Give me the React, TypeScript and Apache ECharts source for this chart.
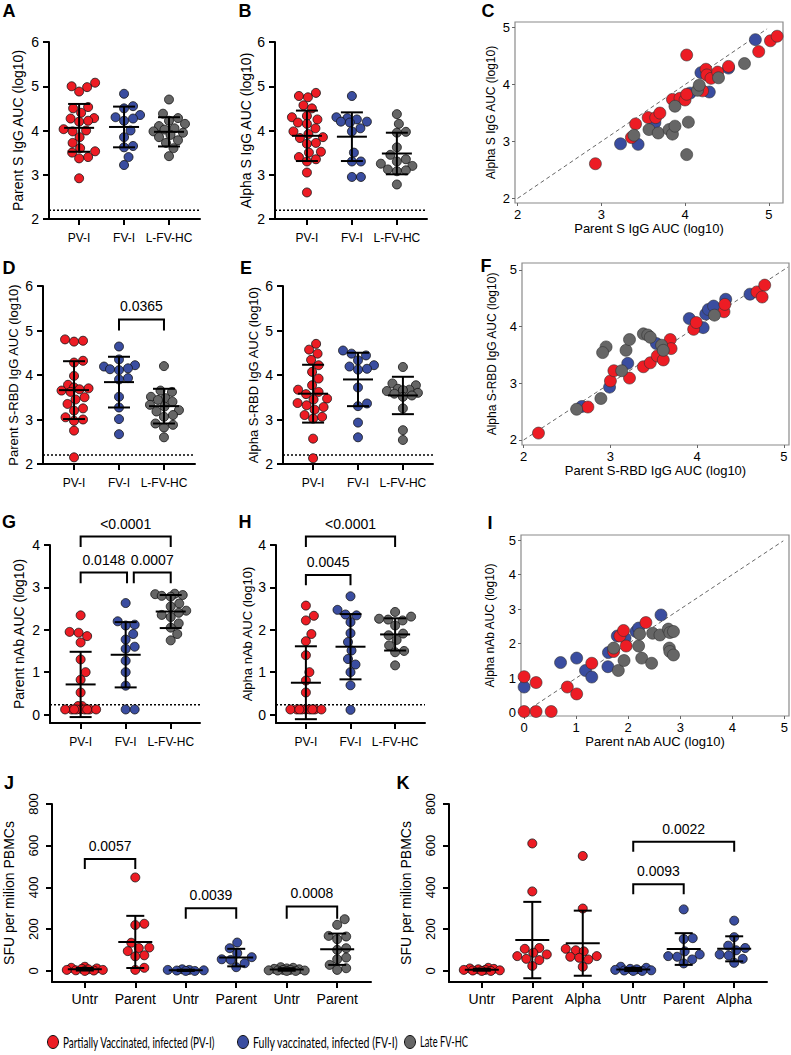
import React, { useEffect, useRef } from "react";
import * as echarts from "echarts";

const RED = "#ED1C24";
const BLUE = "#3A4DA0";
const GRAY = "#666666";
const FONT = "Liberation Sans, Arial, sans-serif";

// ---------- categories ----------
const groupCats = ["PV-I", "FV-I", "L-FV-HC"];
const catsJ = ["Untr", "Parent", "Untr", "Parent", "Untr", "Parent"];
const catsK = ["Untr", "Parent", "Alpha", "Untr", "Parent", "Alpha"];

// ---------- Panel A: Parent S IgG AUC (log10) ----------
const aPV = [5.08, 5.0, 4.98, 4.88, 4.53, 4.5, 4.4, 4.28, 4.27, 4.22, 4.2, 4.03, 4.0, 3.98, 3.85, 3.72, 3.6, 3.53, 3.5, 3.4, 3.37, 2.92];
const aFV = [4.83, 4.55, 4.5, 4.35, 4.3, 4.27, 4.22, 4.0, 3.85, 3.65, 3.62, 3.4, 3.22];
const aHC = [4.7, 4.38, 4.28, 4.22, 4.15, 4.1, 4.05, 4.02, 3.98, 3.95, 3.9, 3.85, 3.78, 3.72, 3.6, 3.42];
const aMean = [4.06, 4.08, 3.97];
const aSD = [0.54, 0.46, 0.33];

// ---------- Panel B: Alpha S IgG AUC (log10) ----------
const bPV = [4.85, 4.78, 4.75, 4.57, 4.5, 4.33, 4.3, 4.25, 4.18, 4.15, 4.05, 3.98, 3.92, 3.85, 3.83, 3.72, 3.7, 3.52, 3.5, 3.4, 3.35, 3.3, 3.05, 2.6];
const bFV = [4.78, 4.3, 4.28, 4.25, 4.2, 4.2, 4.18, 4.05, 3.98, 3.5, 3.3, 3.3, 2.95, 2.95];
const bHC = [4.37, 4.15, 3.97, 3.95, 3.62, 3.45, 3.35, 3.3, 3.25, 3.2, 3.12, 3.1, 3.08, 2.78];
const bMean = [3.88, 3.86, 3.48];
const bSD = [0.57, 0.55, 0.47];

// ---------- Panel C: Parent vs Alpha S IgG ----------
const cRed = [[2.93, 2.61], [3.36, 3.07], [3.41, 3.31], [3.56, 3.42], [3.65, 3.42], [3.7, 3.5], [3.85, 3.74], [3.94, 3.76], [4.0, 3.73], [4.02, 3.83], [4.02, 4.52], [4.21, 3.89], [4.25, 4.27], [4.26, 4.17], [4.31, 4.11], [4.39, 4.22], [4.52, 4.32], [4.88, 4.58], [5.02, 4.77], [5.1, 4.85]];
const cBlue = [[3.23, 2.96], [3.44, 2.95], [3.64, 3.33], [4.06, 3.85], [4.29, 3.87], [4.19, 4.21], [4.52, 4.29], [4.84, 4.79]];
const cGray = [[3.39, 3.11], [3.57, 3.21], [3.68, 3.15], [3.81, 3.21], [3.85, 3.13], [3.88, 3.27], [3.88, 3.62], [4.04, 3.34], [4.02, 2.77], [4.15, 3.9], [4.17, 3.99], [4.4, 4.12], [4.71, 4.37]];

// ---------- Panel D: Parent S-RBD IgG AUC (log10) ----------
const dPV = [4.8, 4.77, 4.75, 4.32, 4.28, 3.98, 3.78, 3.72, 3.7, 3.68, 3.65, 3.62, 3.5, 3.45, 3.35, 3.25, 3.2, 3.05, 3.0, 2.97, 2.75, 2.15];
const dFV = [4.64, 4.35, 4.22, 4.19, 4.15, 4.13, 4.11, 3.93, 3.9, 3.51, 3.27, 3.01, 2.67];
const dHC = [4.2, 3.65, 3.62, 3.51, 3.48, 3.44, 3.4, 3.33, 3.29, 3.21, 3.18, 3.1, 3.06, 2.91, 2.88, 2.82, 2.6];
const dMean = [3.66, 3.84, 3.3];
const dSD = [0.65, 0.57, 0.39];

// ---------- Panel E: Alpha S-RBD IgG AUC (log10) ----------
const ePV = [4.7, 4.57, 4.48, 4.34, 4.22, 4.07, 3.92, 3.77, 3.67, 3.62, 3.57, 3.47, 3.45, 3.37, 3.32, 3.28, 3.22, 3.1, 3.06, 3.02, 2.57, 2.13];
const eFV = [4.55, 4.48, 4.44, 4.33, 4.22, 4.19, 4.14, 4.12, 3.72, 3.36, 3.3, 2.93, 2.6];
const eHC = [4.18, 3.81, 3.77, 3.69, 3.67, 3.66, 3.64, 3.6, 3.58, 3.54, 3.51, 3.25, 2.76, 2.54];
const eMean = [3.58, 3.9, 3.54];
const eSD = [0.65, 0.6, 0.42];

// ---------- Panel F: Parent vs Alpha S-RBD IgG ----------
const fRed = [[2.17, 2.12], [2.74, 2.58], [3.0, 3.04], [3.04, 3.22], [3.22, 3.09], [3.38, 3.29], [3.46, 3.36], [3.54, 3.48], [3.61, 3.41], [3.69, 3.77], [3.7, 3.61], [3.96, 3.95], [3.99, 4.07], [4.31, 4.26], [4.32, 4.39], [4.69, 4.61], [4.78, 4.73], [4.75, 4.52]];
const fBlue = [[2.67, 2.59], [2.99, 2.93], [3.2, 3.35], [3.53, 3.7], [3.91, 4.14], [4.07, 3.98], [4.1, 4.22], [4.13, 4.3], [4.19, 4.36], [4.33, 4.48], [4.61, 4.57]];
const fGray = [[2.61, 2.54], [2.89, 2.73], [3.13, 3.22], [2.95, 3.64], [2.91, 3.54], [3.18, 3.58], [3.22, 3.77], [3.38, 3.87], [3.43, 3.85], [3.46, 3.81], [3.59, 3.67], [3.61, 3.58], [4.2, 4.2]];

// ---------- Panel G: Parent nAb AUC (log10) ----------
const gPV = [2.34, 1.95, 1.93, 1.85, 1.7, 1.3, 1.0, 0.82, 0.52, 0.2, 0.2, 0.12, 0.12, 0.12, 0.12, 0.12, 0.12, 0.12, 0.12, 0.12];
const gFV = [2.63, 2.2, 2.12, 2.1, 1.9, 1.77, 1.6, 1.55, 1.27, 1.0, 0.68, 0.12, 0.12];
const gHC = [2.85, 2.84, 2.82, 2.8, 2.78, 2.62, 2.55, 2.45, 2.4, 2.35, 2.3, 2.15, 2.05, 1.9, 1.75];
const gMean = [0.71, 1.41, 2.43];
const gSD = [0.77, 0.77, 0.39];

// ---------- Panel H: Alpha nAb AUC (log10) ----------
const hPV = [2.57, 2.33, 2.22, 1.9, 1.73, 1.4, 1.0, 0.8, 0.52, 0.12, 0.12, 0.12, 0.12, 0.12, 0.12, 0.12, 0.12, 0.12];
const hFV = [2.79, 2.47, 2.36, 2.34, 2.18, 1.92, 1.71, 1.51, 1.31, 1.18, 1.0, 0.69, 0.11];
const hHC = [2.42, 2.31, 2.26, 2.24, 2.22, 2.1, 1.91, 1.87, 1.76, 1.63, 1.5, 1.47, 1.16];
const hMean = [0.75, 1.6, 1.89];
const hSD = [0.86, 0.77, 0.38];

// ---------- Panel I: Parent vs Alpha nAb ----------
const iRed = [[0, 1.04], [0.23, 0.87], [0, 0.03], [0.23, 0.03], [0.52, 0.03], [0.83, 0.74], [1.01, 0.54], [1.3, 1.43], [1.72, 1.77], [1.84, 2.22], [1.91, 2.38], [1.96, 1.93], [2.34, 2.61]];
const iBlue = [[0, 0.74], [0.7, 1.45], [1.01, 1.58], [1.18, 1.22], [1.3, 1.03], [1.61, 1.33], [1.62, 1.74], [1.79, 2.22], [1.94, 2.16], [2.15, 2.35], [2.2, 2.45], [2.63, 2.83]];
const iGray = [[1.72, 1.87], [1.81, 1.22], [1.92, 1.51], [2.2, 1.93], [2.22, 2.28], [2.26, 1.58], [2.45, 1.43], [2.47, 2.3], [2.61, 2.25], [2.77, 2.42], [2.8, 2.32], [2.87, 2.35], [2.79, 1.87], [2.8, 1.77], [2.87, 1.67]];

// ---------- Panel J: SFU per million PBMCs ----------
const jUntr1 = [20, 15, 12, 10, 8, 5, 5, 3, 2, 0];
const jPar1 = [448, 226, 220, 135, 112, 110, 95, 75, 70, 15, 5];
const jUntr2 = [8, 5, 5, 3, 2, 0, 0];
const jPar2 = [136, 109, 85, 66, 56, 53, 37, 18];
const jUntr3 = [18, 15, 12, 10, 8, 5, 5, 3, 2, 2, 0, 0];
const jPar3 = [248, 221, 168, 165, 152, 109, 101, 64, 56, 29, 13, 5];
const jMean = [8, 139, 3, 64, 7, 104];
const jSD = [6, 125, 3, 42, 6, 75];

// ---------- Panel K: SFU per million PBMCs ----------
const kUntr1 = [15, 12, 10, 8, 5, 5, 3, 2, 0, 0];
const kPar1 = [611, 381, 110, 106, 87, 79, 71, 58, 52, 24];
const kAlp1 = [551, 299, 106, 99, 94, 71, 68, 63, 55, 20];
const kUntr2 = [20, 15, 10, 8, 5, 3, 2, 0, 0];
const kPar2 = [295, 157, 153, 94, 79, 71, 68, 55, 36];
const kAlp2 = [241, 162, 121, 110, 99, 79, 74, 58, 39];
const kMean = [6, 148, 133, 7, 105, 106];
const kSD = [5, 183, 156, 7, 76, 60];

// ---------- significance brackets: [x1, x2, top, leg] + labels ----------
const dBrackets = [[2, 3, 5.25, 5.0]];
const dBracketLabels = ["0.0365"];
const gBrackets = [[1, 3, 4.2, 3.95], [1, 2.03, 3.35, 3.1], [2.18, 3, 3.35, 3.1]];
const gBracketLabels = ["<0.0001", "0.0148", "0.0007"];
const hBrackets = [[1, 3, 4.2, 3.95], [1, 2, 3.29, 3.05]];
const hBracketLabels = ["<0.0001", "0.0045"];
const jBrackets = [[1, 2, 536, 488], [3, 4, 301, 250], [5, 6, 309, 250]];
const jBracketLabels = ["0.0057", "0.0039", "0.0008"];
const kBrackets = [[4, 6, 619, 571], [4, 5, 416, 368]];
const kBracketLabels = ["0.0022", "0.0093"];

// ---------- legend ----------
const legendNames = ["Partially Vaccinated, infected (PV-I)", "Fully vaccinated, infected (FV-I)", "Late FV-HC"];
const legendColors = [RED, BLUE, GRAY];

function swarmOffsets(vals: number[], pxX: number, pxY: number, diam: number, limitPx: number): number[] {
  const idx = vals.map((_, i) => i).sort((a, b) => vals[a] - vals[b]);
  const placed: { x: number; y: number }[] = [];
  const res: number[] = new Array(vals.length).fill(0);
  const cands: number[] = [0];
  for (let k = 1; k <= limitPx * 2; k++) cands.push(k * 0.5, -k * 0.5);
  for (const i of idx) {
    const py = vals[i] * pxY;
    let chosen = 0;
    let found = false;
    for (const f of [1, 0.85, 0.7, 0.55, 0.4, 0.25]) {
      const d = diam * f;
      for (const c of cands) {
        if (Math.abs(c) > limitPx) continue;
        if (placed.every((p) => (p.x - c) ** 2 + (p.y - py) ** 2 >= d * d - 0.01)) {
          chosen = c;
          found = true;
          break;
        }
      }
      if (found) break;
    }
    placed.push({ x: chosen, y: py });
    res[i] = chosen / pxX;
  }
  return res;
}

function measureText(text: string, font: string): number {
  const ctx = document.createElement("canvas").getContext("2d");
  if (!ctx) return text.length * 6;
  ctx.font = font;
  return ctx.measureText(text).width;
}

function buildOption() {
  const option: any = {
    animation: false,
    backgroundColor: "#fff",
    grid: [],
    xAxis: [],
    yAxis: [],
    series: [],
    graphic: [],
  };

  const bracketSeries = (gi: number, data: number[][], labels: string[], fontSize: number) => ({
    type: "custom",
    xAxisIndex: gi,
    yAxisIndex: gi,
    clip: false,
    silent: true,
    z: 12,
    encode: { x: [0, 1], y: [2, 3] },
    data,
    renderItem: (params: any, api: any) => {
      const x1 = api.value(0), x2 = api.value(1), yt = api.value(2), yl = api.value(3);
      const p1 = api.coord([x1, yl]);
      const p2 = api.coord([x1, yt]);
      const p3 = api.coord([x2, yt]);
      const p4 = api.coord([x2, yl]);
      return {
        type: "group",
        children: [
          { type: "polyline", shape: { points: [p1, p2, p3, p4] }, style: { stroke: "#000", lineWidth: 2, fill: null } },
          {
            type: "text",
            x: (p2[0] + p3[0]) / 2,
            y: p2[1] - 13,
            style: { text: labels[params.dataIndex], fontSize, fontFamily: FONT, fill: "#000", align: "center", verticalAlign: "middle" },
          },
        ],
      };
    },
  });

  function addDotPanel(p: any) {
    const gi = option.grid.length;
    option.grid.push({ left: p.left, top: p.top, width: p.width, height: p.height });
    const ticksX = p.cats.map((_: string, i: number) => i + 1);
    option.xAxis.push({
      gridIndex: gi,
      type: "value",
      min: p.xMin,
      max: p.xMax,
      splitLine: { show: false },
      axisLine: { show: true, onZero: false, lineStyle: { color: "#000", width: 2 } },
      axisTick: { show: true, length: 6, lineStyle: { color: "#000", width: 2 }, customValues: ticksX },
      axisLabel: {
        customValues: ticksX,
        margin: p.catMargin,
        fontSize: p.catFont,
        fontFamily: FONT,
        color: "#000",
        formatter: (v: number) => p.cats[Math.round(v) - 1] ?? "",
      },
    });
    option.yAxis.push({
      gridIndex: gi,
      type: "value",
      min: p.yMin,
      max: p.yMax,
      splitLine: { show: false },
      axisLine: { show: true, onZero: false, lineStyle: { color: "#000", width: 2 } },
      axisTick: { show: true, length: 6, lineStyle: { color: "#000", width: 2 }, customValues: p.yTicks },
      axisLabel: {
        customValues: p.yTicks,
        margin: p.tickMargin,
        fontSize: p.tickFont,
        fontFamily: FONT,
        color: "#000",
        rotate: p.rotateTicks ? 90 : 0,
      },
      name: p.yName,
      nameLocation: "middle",
      nameGap: p.nameGap,
      nameTextStyle: { fontSize: p.nameSize, fontFamily: FONT, color: "#000" },
    });
    const pxX = p.width / (p.xMax - p.xMin);
    const pxY = p.height / (p.yMax - p.yMin);
    p.groups.forEach((g: any, k: number) => {
      const offs = swarmOffsets(g.vals, pxX, pxY, p.size, p.limit);
      option.series.push({
        type: "scatter",
        xAxisIndex: gi,
        yAxisIndex: gi,
        symbolSize: p.size,
        silent: true,
        z: 5,
        itemStyle: { color: g.color, borderColor: "#111", borderWidth: 0.8, opacity: 1 },
        data: g.vals.map((v: number, i: number) => [k + 1 + offs[i], v]),
      });
    });
    const meanData = p.means.map((m: number, i: number) => [i + 1, m, p.sds[i]]);
    option.series.push({
      type: "custom",
      xAxisIndex: gi,
      yAxisIndex: gi,
      clip: false,
      silent: true,
      z: 10,
      encode: { x: 0, y: 1 },
      data: meanData,
      renderItem: (_params: any, api: any) => {
        const x = api.value(0), m = api.value(1), s = api.value(2);
        const c = api.coord([x, m]);
        const t = api.coord([x, m + s]);
        const b = api.coord([x, m - s]);
        const st = { stroke: "#000", lineWidth: 2 };
        return {
          type: "group",
          children: [
            { type: "line", shape: { x1: c[0] - p.meanHalf, y1: c[1], x2: c[0] + p.meanHalf, y2: c[1] }, style: st },
            { type: "line", shape: { x1: t[0], y1: t[1], x2: b[0], y2: b[1] }, style: st },
            { type: "line", shape: { x1: t[0] - p.capHalf, y1: t[1], x2: t[0] + p.capHalf, y2: t[1] }, style: st },
            { type: "line", shape: { x1: b[0] - p.capHalf, y1: b[1], x2: b[0] + p.capHalf, y2: b[1] }, style: st },
          ],
        };
      },
    });
    if (p.dotted !== undefined) {
      option.series.push({
        type: "line",
        xAxisIndex: gi,
        yAxisIndex: gi,
        silent: true,
        symbol: "none",
        z: 2,
        lineStyle: { color: "#000", width: 1.5, type: [2, 2] },
        data: [[p.xMin, p.dotted], [p.xMax, p.dotted]],
      });
    }
    if (p.brackets) option.series.push(bracketSeries(gi, p.brackets, p.bracketLabels, p.bracketFont));
  }

  function addScatterPanel(p: any) {
    const gi = option.grid.length;
    option.grid.push({ left: p.left, top: p.top, width: p.width, height: p.height, show: true, borderColor: "#8a8a8a", borderWidth: 1.2, backgroundColor: "transparent" });
    const common = (ticks: number[]) => ({
      splitLine: { show: false },
      axisLine: { show: false, onZero: false },
      axisTick: { show: true, length: 3, lineStyle: { color: "#666", width: 1 }, customValues: ticks },
      axisLabel: { customValues: ticks, margin: 5, fontSize: 13, fontFamily: FONT, color: "#000" },
    });
    option.xAxis.push({
      gridIndex: gi, type: "value", min: p.xMin, max: p.xMax, ...common(p.ticks),
      name: p.xName, nameLocation: "middle", nameGap: p.xNameGap,
      nameTextStyle: { fontSize: 13, fontFamily: FONT, color: "#000" },
    });
    option.yAxis.push({
      gridIndex: gi, type: "value", min: p.yMin, max: p.yMax, ...common(p.ticks),
      name: p.yName, nameLocation: "middle", nameGap: p.yNameGap,
      nameTextStyle: { fontSize: 12, fontFamily: FONT, color: "#000" },
    });
    option.series.push({
      type: "line", xAxisIndex: gi, yAxisIndex: gi, silent: true, symbol: "none", z: 2,
      lineStyle: { color: "#555", width: 0.9, type: [4, 3] },
      data: [[p.diag[0], p.diag[0]], [p.diag[1], p.diag[1]]],
    });
    p.sets.forEach((s: any) => {
      option.series.push({
        type: "scatter", xAxisIndex: gi, yAxisIndex: gi, silent: true, symbolSize: 12, z: 5,
        itemStyle: { color: s.color, borderColor: "#333", borderWidth: 0.6, opacity: 1 },
        data: s.data,
      });
    });
  }

  const dotBase = { size: 9, limit: 16, catFont: 12, catMargin: 13, tickFont: 14, tickMargin: 10, meanHalf: 15, capHalf: 11, bracketFont: 14 };
  const grp = (a: number[], b: number[], c: number[]) => [
    { vals: a, color: RED },
    { vals: b, color: BLUE },
    { vals: c, color: GRAY },
  ];

  addDotPanel({ ...dotBase, left: 49, top: 42, width: 151, height: 177, xMin: 0.33, xMax: 3.69, yMin: 2, yMax: 6, yTicks: [2, 3, 4, 5, 6],
    yName: "Parent S IgG AUC (log10)", nameSize: 14, nameGap: 24, cats: groupCats, groups: grp(aPV, aFV, aHC), means: aMean, sds: aSD, dotted: 2.2 });
  addDotPanel({ ...dotBase, left: 275, top: 42, width: 152, height: 177, xMin: 0.29, xMax: 3.67, yMin: 2, yMax: 6, yTicks: [2, 3, 4, 5, 6],
    yName: "Alpha S IgG AUC (log10)", nameSize: 14, nameGap: 22, cats: groupCats, groups: grp(bPV, bFV, bHC), means: bMean, sds: bSD, dotted: 2.2 });
  addScatterPanel({ left: 515, top: 22, width: 268, height: 181, xMin: 1.97, xMax: 5.17, yMin: 1.92, yMax: 5.1, ticks: [2, 3, 4, 5], diag: [2, 4.98],
    xName: "Parent S IgG AUC (log10)", yName: "Alpha S IgG AUC (log10)", xNameGap: 18, yNameGap: 18,
    sets: [{ data: cBlue, color: BLUE }, { data: cRed, color: RED }, { data: cGray, color: GRAY }] });

  addDotPanel({ ...dotBase, left: 43, top: 286, width: 152, height: 178, xMin: 0.31, xMax: 3.69, yMin: 2, yMax: 6, yTicks: [2, 3, 4, 5, 6],
    yName: "Parent S-RBD IgG AUC (log10)", nameSize: 13, nameGap: 23, cats: groupCats, groups: grp(dPV, dFV, dHC), means: dMean, sds: dSD, dotted: 2.2,
    brackets: dBrackets, bracketLabels: dBracketLabels });
  addDotPanel({ ...dotBase, left: 283, top: 286, width: 150, height: 178, xMin: 0.33, xMax: 3.67, yMin: 2, yMax: 6, yTicks: [2, 3, 4, 5, 6],
    yName: "Alpha S-RBD IgG AUC (log10)", nameSize: 13, nameGap: 23, cats: groupCats, groups: grp(ePV, eFV, eHC), means: eMean, sds: eSD, dotted: 2.2 });
  addScatterPanel({ left: 522, top: 263, width: 267, height: 182, xMin: 1.98, xMax: 5.06, yMin: 1.91, yMax: 5.12, ticks: [2, 3, 4, 5], diag: [2, 5.05],
    xName: "Parent S-RBD IgG AUC (log10)", yName: "Alpha S-RBD IgG AUC (log10)", xNameGap: 18, yNameGap: 24,
    sets: [{ data: fBlue, color: BLUE }, { data: fRed, color: RED }, { data: fGray, color: GRAY }] });

  addDotPanel({ ...dotBase, left: 50, top: 545, width: 150, height: 178, xMin: 0.32, xMax: 3.65, yMin: -0.2, yMax: 4, yTicks: [0, 1, 2, 3, 4],
    yName: "Parent nAb AUC (log10)", nameSize: 14, nameGap: 24, cats: groupCats, groups: grp(gPV, gFV, gHC), means: gMean, sds: gSD, dotted: 0.23,
    brackets: gBrackets, bracketLabels: gBracketLabels });
  addDotPanel({ ...dotBase, left: 276, top: 545, width: 149, height: 178, xMin: 0.33, xMax: 3.67, yMin: -0.2, yMax: 4, yTicks: [0, 1, 2, 3, 4],
    yName: "Alpha nAb AUC (log10)", nameSize: 13, nameGap: 22, cats: groupCats, groups: grp(hPV, hFV, hHC), means: hMean, sds: hSD, dotted: 0.23,
    brackets: hBrackets, bracketLabels: hBracketLabels });
  addScatterPanel({ left: 521, top: 535, width: 268, height: 181, xMin: -0.06, xMax: 5.09, yMin: -0.1, yMax: 5.15, ticks: [0, 1, 2, 3, 4, 5], diag: [0.12, 4.98],
    xName: "Parent nAb AUC (log10)", yName: "Alpha nAb AUC (log10)", xNameGap: 18, yNameGap: 25,
    sets: [{ data: iBlue, color: BLUE }, { data: iRed, color: RED }, { data: iGray, color: GRAY }] });

  const elBase = { ...dotBase, limit: 18, catFont: 14, catMargin: 10, tickFont: 13, tickMargin: 12, meanHalf: 17, capHalf: 9, rotateTicks: true };
  addDotPanel({ ...elBase, left: 52, top: 804, width: 319, height: 178, xMin: 0.35, xMax: 6.67, yMin: -53, yMax: 800, yTicks: [0, 200, 400, 600, 800],
    yName: "SFU per milion PBMCs", nameSize: 14, nameGap: 36, cats: catsJ,
    groups: [{ vals: jUntr1, color: RED }, { vals: jPar1, color: RED }, { vals: jUntr2, color: BLUE }, { vals: jPar2, color: BLUE }, { vals: jUntr3, color: GRAY }, { vals: jPar3, color: GRAY }],
    means: jMean, sds: jSD, brackets: jBrackets, bracketLabels: jBracketLabels });
  addDotPanel({ ...elBase, left: 449, top: 804, width: 318, height: 178, xMin: 0.35, xMax: 6.65, yMin: -53, yMax: 800, yTicks: [0, 200, 400, 600, 800],
    yName: "SFU per milion PBMCs", nameSize: 14, nameGap: 36, cats: catsK,
    groups: [{ vals: kUntr1, color: RED }, { vals: kPar1, color: RED }, { vals: kAlp1, color: RED }, { vals: kUntr2, color: BLUE }, { vals: kPar2, color: BLUE }, { vals: kAlp2, color: BLUE }],
    means: kMean, sds: kSD, brackets: kBrackets, bracketLabels: kBracketLabels });

  // panel letters
  const letters: [string, number, number][] = [
    ["A", 9, 11], ["B", 245, 11], ["C", 488, 11],
    ["D", 9, 268], ["E", 246, 268], ["F", 486, 266],
    ["G", 9, 522], ["H", 245, 522], ["I", 490, 523],
    ["J", 9, 783], ["K", 403, 783],
  ];
  letters.forEach(([t, x, y]) => {
    option.graphic.push({
      type: "text", x, y,
      style: { text: t, fontSize: 18, fontWeight: "bold", fontFamily: FONT, fill: "#000", align: "center", verticalAlign: "middle" },
    });
  });

  // legend (text squeezed to the narrow width of the original font)
  const legX = [53, 243, 410];
  const legW = [152, 145, 48];
  const legFont = "Lato, Open Sans, sans-serif";
  const legSize = 15;
  legendNames.forEach((name, i) => {
    const w = measureText(name, `${legSize}px ${legFont}`);
    option.graphic.push({ type: "ellipse", shape: { cx: legX[i], cy: 1042, rx: 5.5, ry: 6.5 }, style: { fill: legendColors[i], stroke: "#111", lineWidth: 1 } });
    option.graphic.push({
      type: "text", x: legX[i] + 10, y: 1042, scaleX: w > 0 ? legW[i] / w : 1,
      style: { text: name, fontSize: legSize, fontFamily: legFont, fill: "#000", align: "left", verticalAlign: "middle" },
    });
  });

  return option;
}

export default function App() {
  const ref = useRef<HTMLDivElement>(null);
  useEffect(() => {
    if (!ref.current) return;
    const chart = echarts.init(ref.current, undefined, { renderer: "svg" });
    chart.setOption(buildOption());
    return () => chart.dispose();
  }, []);
  return <div ref={ref} style={{ position: "fixed", left: 0, top: 0, width: 791, height: 1055, background: "#fff" }} />;
}
